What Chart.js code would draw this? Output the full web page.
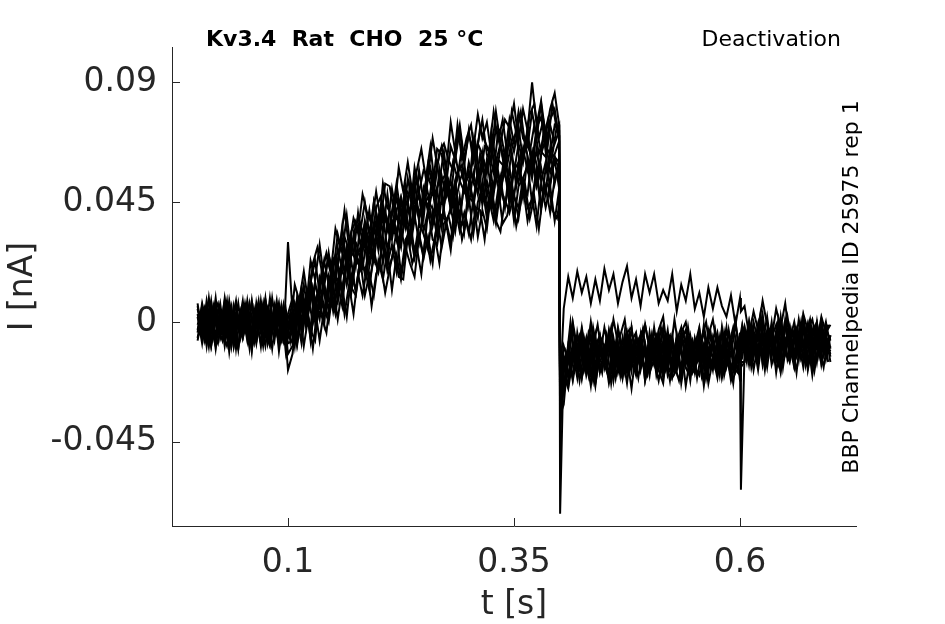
<!DOCTYPE html>
<html>
<head>
<meta charset="utf-8">
<title>Kv3.4 Rat CHO 25 °C - Deactivation</title>
<script src="https://cdn.jsdelivr.net/npm/chart.js@4.4.1/dist/chart.umd.min.js"></script>
<style>
  html, body { margin: 0; padding: 0; background: #fff; }
  #wrap { width: 945px; height: 624px; position: relative; }
</style>
</head>
<body>
<div id="wrap"><canvas id="traceChart"></canvas></div>
<script>
// sample times of sweeps 1-10, ms
const timeMs = [
  0, 5, 10, 15, 20, 25, 30, 35, 40, 45, 50, 55, 60, 65, 70, 75, 80, 85, 90, 95, 100,
  105, 110, 115, 120, 125, 130, 135, 140, 145, 150, 155, 160, 165, 170, 175, 180, 185, 190, 195, 200,
  205, 210, 215, 220, 225, 230, 235, 240, 245, 250, 255, 260, 265, 270, 275, 280, 285, 290, 295, 300,
  305, 310, 315, 320, 325, 330, 335, 340, 345, 350, 355, 360, 365, 370, 375, 380, 385, 390, 395, 400,
  401,
  405, 410, 415, 420, 425, 430, 435, 440, 445, 450, 455, 460, 465, 470, 475, 480, 485, 490, 495, 500,
  505, 510, 515, 520, 525, 530, 535, 540, 545, 550, 555, 560, 565, 570, 575, 580, 585, 590, 595, 600,
  601,
  605, 610, 615, 620, 625, 630, 635, 640, 645, 650, 655, 660, 665, 670, 675, 680, 685, 690, 695, 700
];
// sample times of sweeps 11-14, ms
const timeMsB = [
  2.5, 7.5, 12.5, 17.5, 22.5, 27.5, 32.5, 37.5, 42.5, 47.5, 52.5, 57.5, 62.5, 67.5, 72.5, 77.5, 82.5, 87.5, 92.5, 97.5,
  102.5, 107.5, 112.5, 117.5, 122.5, 127.5, 132.5, 137.5, 142.5, 147.5, 152.5, 157.5, 162.5, 167.5, 172.5, 177.5, 182.5, 187.5, 192.5, 197.5,
  202.5, 207.5, 212.5, 217.5, 222.5, 227.5, 232.5, 237.5, 242.5, 247.5, 252.5, 257.5, 262.5, 267.5, 272.5, 277.5, 282.5, 287.5, 292.5, 297.5,
  302.5, 307.5, 312.5, 317.5, 322.5, 327.5, 332.5, 337.5, 342.5, 347.5, 352.5, 357.5, 362.5, 367.5, 372.5, 377.5, 382.5, 387.5, 392.5, 397.5,
  400, 401,
  402.5, 407.5, 412.5, 417.5, 422.5, 427.5, 432.5, 437.5, 442.5, 447.5, 452.5, 457.5, 462.5, 467.5, 472.5, 477.5, 482.5, 487.5, 492.5, 497.5,
  502.5, 507.5, 512.5, 517.5, 522.5, 527.5, 532.5, 537.5, 542.5, 547.5, 552.5, 557.5, 562.5, 567.5, 572.5, 577.5, 582.5, 587.5, 592.5, 597.5,
  602.5, 607.5, 612.5, 617.5, 622.5, 627.5, 632.5, 637.5, 642.5, 647.5, 652.5, 657.5, 662.5, 667.5, 672.5, 677.5, 682.5, 687.5, 692.5, 697.5
];

const trace1 = [
  5, -4, 2, -8, 6, -2, 8, -6, 1, -9, 4, -3, 7, -7, 2, -5, 9, -4, 0, -6, 3,
  9, 2, 13, 5, 23, 16, 29, 16, 25, 19, 33, 26, 40, 25, 37, 34, 45, 33, 45, 34,
  52, 43, 40, 52, 40, 51, 40, 58, 49, 57, 55, 69, 59, 66, 57, 75, 64, 74, 61, 70,
  65, 78, 69, 75, 63, 79, 67, 76, 73, 82, 68, 80, 72, 90, 74, 83, 70, 80, 86, 74,
  -72,
  -13, -21, -11, -21, -6, -15, -9, -20, -6, -16, -4, -17, -11, -21, -6, -15, -5, -18, -10, -20,
  -7, -13, -2, -18, -8, -16, -5, -12, -19, -6, -13, -3, -16, -8, -19, -2, -14, -7, -17, -4,
  -9,
  -2, -13, -6, -15, -4, -11, 0, -14, -7, -12, -3, -16, -5, -10, -1, -13, -9, -4, -14, -5
];
const trace2 = [
  -3, 6, -7, 3, -10, 4, -2, 7, -9, 2, -5, 8, -4, 1, -8, 5, -3, 6, -11, 2, -6,
  -4, 9, -4, 8, 15, 2, 17, 13, 26, 14, 23, 31, 21, 31, 21, 37, 31, 42, 28, 40,
  34, 48, 34, 42, 47, 36, 52, 42, 49, 39, 55, 49, 59, 47, 55, 46, 63, 53, 49, 60,
  53, 67, 63, 56, 72, 60, 67, 56, 71, 64, 73, 61, 69, 60, 73, 77, 66, 63, 74, 72,
  -35,
  -31, -12, -21, -4, -14, -6, -20, -9, -5, -16, -8, -18, -3, -13, -17, -2, -15, -10, -19, -6,
  -14, -5, -18, -7, -20, -9, -4, -16, -8, -17, -3, -15, -10, -18, -6, -13, -2, -19, -7, -14,
  -63,
  -12, 0, -10, -1, -15, -5, -2, -13, 2, -11, -4, -14, -6, -1, -16, -3, -9, 1, -12, -5
];
const trace3 = [
  2, -8, 5, -4, 9, -6, 1, -10, 6, -3, 3, -7, 8, -5, 0, -9, 4, -2, 7, -8, 30,
  4, -7, 9, -1, -2, 15, 6, 14, 4, 20, 11, 21, 28, 13, 26, 21, 34, 22, 35, 30,
  40, 27, 38, 31, 46, 37, 32, 47, 38, 50, 41, 50, 37, 55, 47, 53, 44, 53, 58, 44,
  56, 48, 63, 47, 56, 61, 52, 64, 48, 59, 52, 65, 57, 64, 52, 63, 69, 56, 62, 57,
  -30,
  -16, -24, -9, -18, -7, -20, -13, -24, -10, -16, -21, -8, -19, -12, -23, -9, -17, -6, -22, -14,
  -10, -18, -23, -8, -20, -11, -21, -7, -17, -19, -9, -24, -12, -16, -8, -21, -13, -20, -7, -22,
  -14,
  -3, -14, -8, -18, -5, -13, -4, -19, -7, -11, -2, -16, -6, -12, -17, -5, -15, -1, -13, -9
];
const trace4 = [
  -6, 3, -2, 8, -7, 4, -9, 2, -4, 7, -6, 1, -8, 5, -3, 9, -7, 2, -5, 6, -12,
  -9, 3, -2, 9, -7, 8, 1, 14, 8, 5, 22, 12, 23, 11, 23, 28, 18, 29, 23, 37,
  28, 22, 38, 34, 28, 43, 32, 40, 30, 44, 47, 36, 44, 36, 53, 42, 50, 38, 53, 47,
  45, 57, 44, 53, 43, 58, 50, 57, 44, 57, 60, 51, 48, 63, 51, 58, 48, 65, 52, 60,
  -25,
  5, 17, 9, 19, 11, 17, 7, 16, 8, 20, 12, 18, 7, 15, 21, 9, 16, 6, 18, 11,
  18, 7, 12, 8, 18, 4, 14, 8, 18, 5, 11, 2, 13, 5, 13, 6, 2, 10, -1, 9,
  4,
  6, -5, 4, -3, 8, -1, -6, 5, -2, 7, -7, 0, -10, 3, -3, 1, -8, 2, -4, -1
];
const trace5 = [
  7, -5, 0, -9, 4, -3, 6, -11, 3, -2, 8, -6, 2, -8, 5, -4, 1, -7, 6, -3, -2,
  2, -8, 7, -2, 12, 0, 8, -1, 17, 9, 7, 23, 14, 23, 11, 24, 30, 15, 24, 19,
  32, 22, 29, 19, 35, 27, 39, 26, 37, 33, 27, 42, 32, 47, 37, 43, 34, 47, 34, 52,
  46, 39, 53, 43, 51, 39, 54, 43, 58, 47, 43, 54, 59, 45, 55, 43, 58, 52, 61, 50,
  -20,
  -9, -15, -1, -16, -7, -14, 0, -12, -5, -17, -8, -15, -2, -11, -4, -18, -6, -13, -1, -10,
  -16, -4, -12, -3, -17, -7, -2, -15, -5, -14, -6, -17, -3, -10, -4, -16, -7, -13, 0, -15,
  -8,
  -10, 0, -13, -3, -8, 2, -11, -5, -14, -2, -4, -12, 1, -9, -1, -15, -3, -7, 0, -10
];
const trace6 = [
  -1, 4, -9, 6, -5, 2, -7, 8, -3, -10, 5, -1, -6, 3, -9, 7, -4, 1, -8, 4, -18,
  -12, 2, -8, 6, -4, 5, -7, 5, 0, 13, 1, 13, 2, 18, 12, 23, 10, 18, 10, 23,
  16, 27, 12, 25, 16, 28, 22, 17, 32, 24, 32, 22, 39, 28, 37, 27, 43, 34, 41, 33,
  46, 32, 42, 35, 50, 38, 34, 46, 41, 48, 39, 51, 38, 47, 36, 52, 43, 51, 38, 50,
  -28,
  -27, -9, -15, -9, -21, -7, -16, -5, -19, -12, -8, -22, -10, -17, -6, -14, -20, -9, -18, -4,
  -15, -7, -21, -10, -17, -5, -19, -11, -22, -8, -13, -8, -19, -6, -15, -3, -17, -11, -18, -5,
  -12,
  -5, -16, -3, -12, -7, -17, -4, -14, -2, -11, -15, -6, -13, -1, -18, -8, -3, -16, -7, -12
];
const trace7 = [
  3, -6, 8, -2, -9, 5, -4, 6, -7, 2, -1, 7, -10, 4, -3, 8, -5, 1, -8, 6, -2,
  8, 1, 12, 1, 15, 23, 11, 23, 14, 24, 21, 36, 21, 34, 38, 29, 37, 27, 45, 37,
  44, 35, 50, 40, 37, 50, 47, 39, 57, 45, 59, 51, 65, 63, 52, 66, 61, 72, 59, 72,
  60, 67, 76, 63, 60, 73, 72, 62, 76, 67, 79, 69, 66, 79, 69, 82, 66, 76, 80, 68,
  -40,
  -14, -20, -8, -14, -2, -13, -5, -18, -9, -15, -3, -12, -16, -6, -19, -7, -4, -15, -8, -17,
  -2, -14, -9, -16, -5, -18, -7, -3, -13, -11, -15, -1, -12, -6, -17, -4, -14, -9, -18, -5,
  -10,
  -3, -13, -6, -15, 0, -10, -2, -12, -8, -1, -14, -4, -11, 1, -9, -16, -2, -10, -5, -13
];
const trace8 = [
  -4, 7, -1, -8, 3, -5, 9, -3, 4, -10, 6, -2, 1, -7, 8, -4, -9, 3, -1, 5, -8,
  -7, 8, -3, 6, -6, 8, 13, 6, 2, 18, 16, 11, 27, 13, 25, 20, 33, 21, 29, 35,
  22, 38, 31, 41, 30, 39, 29, 42, 48, 34, 42, 38, 50, 36, 50, 44, 53, 39, 52, 57,
  43, 55, 46, 61, 49, 55, 47, 61, 53, 47, 60, 47, 62, 54, 65, 53, 60, 51, 63, 68,
  -33,
  -25, -11, -22, -12, -7, -19, -10, -23, -13, -9, -20, -6, -16, -21, -11, -8, -18, -5, -22, -13,
  -9, -17, -7, -20, -15, -6, -23, -12, -10, -19, -8, -22, -11, -13, -21, -9, -16, -7, -18, -20,
  -15,
  -15, -4, -11, -1, -16, -6, -13, -3, -18, -8, -2, -14, -7, -17, -5, -12, 0, -15, -8, -11
];
const trace9 = [
  6, -3, -8, 4, -1, 7, -6, 3, -9, 1, 5, -4, -7, 6, -2, 8, -5, -1, 4, -7, 2,
  3, -9, 2, 7, -3, -7, 10, 4, 15, 4, 14, 6, 23, 13, 10, 22, 20, 12, 27, 19,
  30, 19, 24, 34, 18, 31, 34, 24, 33, 25, 42, 31, 29, 40, 38, 30, 46, 38, 36, 47,
  33, 45, 51, 39, 46, 37, 50, 44, 52, 38, 51, 54, 43, 46, 58, 43, 51, 41, 54, 59,
  -22,
  -13, -15, 0, -10, -3, -15, -1, -9, -13, -2, -11, 1, -8, -14, -4, -2, -16, -5, -1, -10,
  -13, -3, 2, -12, -6, -15, -4, 0, -11, -9, -2, -14, -5, 1, -10, -13, -3, -8, 0, -12,
  -6,
  -2, -12, 0, -7, 3, -11, -6, -1, -13, 1, -8, -3, -14, 2, -9, -4, 0, -11, -2, -7
];
const trace10 = [
  -7, 2, 5, -9, 1, -4, 6, -8, 3, -2, -6, 4, -11, 7, -3, 2, -8, 5, -5, 1, -4,
  -8, 4, 9, 0, 16, 7, 5, 18, 17, 12, 28, 19, 15, 31, 30, 24, 38, 28, 37, 27,
  42, 38, 33, 48, 34, 46, 40, 53, 39, 48, 43, 55, 41, 53, 56, 43, 53, 59, 52, 49,
  68, 53, 62, 57, 68, 53, 66, 61, 68, 56, 67, 60, 73, 56, 72, 64, 62, 74, 67, 72,
  -38,
  -20, -25, -14, -9, -21, -13, -24, -10, -18, -11, -23, -15, -8, -20, -13, -25, -11, -17, -10, -19,
  -14, -22, -12, -7, -21, -18, -9, -24, -13, -17, -20, -10, -23, -14, -8, -19, -11, -22, -15, -12,
  -17,
  -15, -5, -18, -8, -13, -3, -16, -10, -19, -6, -9, -17, -4, -14, -7, -20, -8, -12, -5, -15
];
const trace11 = [
  4, -7, 1, 6, -5, -1, 8, -9, 3, -4, 7, -2, -8, 5, 0, -6, 9, -3, -7, 2,
  -3, 14, 8, 19, 7, 22, 28, 19, 26, 19, 35, 28, 42, 28, 39, 34, 48, 41, 37, 49,
  38, 52, 51, 41, 58, 49, 60, 49, 57, 65, 54, 66, 51, 64, 67, 61, 57, 74, 61, 69,
  74, 60, 73, 68, 64, 79, 68, 76, 63, 79, 71, 79, 66, 78, 82, 69, 76, 67, 82, 72,
  74, -45,
  -30, -22, -3, -13, -18, -6, -15, -2, -12, -19, -5, -14, -9, -20, -4, -16, -7, -13, -3, -17,
  -12, -6, -19, -8, -5, -18, -9, -15, -2, -14, -7, -20, -10, -4, -16, -8, -17, -3, -13, -18,
  -2, -11, -15, -5, -1, -14, -4, -12, 1, -9, -13, -3, -10, 0, -16, -6, -2, -13, -5, -11
];
const trace12 = [
  -5, 3, -9, 6, -2, -7, 4, -1, 8, -6, 2, -10, 5, -3, 7, -8, 1, -4, 6, -11,
  3, -7, 6, -9, 2, -10, 5, 2, -4, 11, 3, 16, 3, 14, 3, 18, 10, 21, 6, 18,
  22, 11, 20, 28, 17, 16, 32, 22, 28, 18, 34, 23, 32, 22, 37, 40, 32, 44, 31, 38,
  31, 43, 42, 31, 46, 38, 50, 37, 40, 49, 36, 45, 51, 39, 47, 35, 49, 52, 42, 39,
  44, -26,
  -28, -11, -16, -9, -22, -11, -20, -5, -17, -13, -8, -23, -10, -15, -6, -19, -12, -21, -9, -17,
  -5, -20, -13, -18, -7, -16, -22, -11, -8, -19, -15, -9, -21, -10, -17, -6, -20, -12, -23, -8,
  -13, -4, -17, -8, -5, -18, -6, -11, -16, -2, -14, -7, -19, -4, -12, -3, -15, -9, -17, -6
];
const trace13 = [
  2, -6, 9, -4, -8, 3, -1, 6, -10, 4, -3, 7, -5, 1, -9, 5, -2, 8, -7, 0,
  3, -9, 8, 1, 9, 0, 9, 18, 5, 17, 8, 20, 26, 18, 33, 22, 20, 33, 29, 38,
  27, 42, 32, 38, 29, 45, 44, 33, 44, 40, 52, 44, 41, 57, 44, 53, 43, 56, 59, 46,
  56, 50, 63, 53, 62, 48, 61, 59, 52, 64, 51, 63, 67, 57, 63, 55, 71, 57, 63, 61,
  60, -31,
  -17, -16, 0, -14, -6, -17, -4, -9, -1, -13, -10, -2, -16, -5, 1, -12, -15, -7, -3, -14,
  -5, -16, -2, -10, -13, 1, -11, -4, -15, -7, -14, -6, 0, -12, -3, -17, -5, -9, -2, -11,
  -1, -12, -3, -8, 3, -11, -4, -14, 0, -7, 2, -9, -13, -2, -6, 1, -10, -3, -12, -1
];
const trace14 = [
  -2, 5, -8, 3, 7, -4, -9, 1, 6, -5, 3, -7, -1, 8, -6, 2, -10, 4, -3, 5,
  -7, 7, 1, 14, 3, 13, 4, 20, 25, 18, 25, 16, 32, 27, 25, 41, 29, 37, 29, 43,
  47, 38, 36, 47, 45, 37, 54, 45, 54, 42, 53, 58, 48, 53, 64, 49, 60, 54, 66, 53,
  57, 67, 53, 66, 64, 56, 72, 62, 59, 68, 71, 56, 69, 64, 74, 63, 69, 76, 63, 74,
  70, -36,
  -16, -18, -20, -9, -5, -18, -12, -22, -10, -6, -17, -8, -21, -11, -19, -4, -14, -7, -16, -20,
  -9, -5, -18, -12, -22, -10, -6, -15, -19, -8, -21, -11, -7, -17, -10, -20, -4, -14, -18, -9,
  -6, -15, -1, -13, -8, -16, -4, -11, 0, -17, -5, -12, -3, -14, -10, -2, -18, -7, -4, -15
];

const sweepsA = [trace1, trace2, trace3, trace4, trace5, trace6, trace7, trace8, trace9, trace10];
const sweepsB = [trace11, trace12, trace13, trace14];

// tick labels
const xTicks = [0.1, 0.35, 0.6];
const yTicks = [-0.045, 0, 0.045, 0.09];

const titleText = 'Kv3.4  Rat  CHO  25 °C';
const protocolText = 'Deactivation';
const sourceText = 'BBP Channelpedia ID 25975 rep 1';

const axisColor = '#262626';
const fontFamily = '"DejaVu Sans", Verdana, sans-serif';

// ms -> s and pA -> nA
function sweepDataset(sweep, times) {
  return {
    data: sweep.map((pA, i) => ({ x: times[i] / 1000, y: pA / 1000 })),
    borderColor: '#000',
    borderWidth: 2,
    pointRadius: 0,
    tension: 0,
    fill: false,
  };
}
const datasets = sweepsA.map((s) => sweepDataset(s, timeMs))
  .concat(sweepsB.map((s) => sweepDataset(s, timeMsB)));

// inward tick marks, matlab style
const innerTicks = {
  id: 'innerTicks',
  afterDatasetsDraw(chart) {
    const { ctx, chartArea, scales } = chart;
    ctx.save();
    ctx.strokeStyle = axisColor;
    ctx.lineWidth = 1;
    ctx.beginPath();
    scales.x.ticks.forEach((t) => {
      const px = Math.round(scales.x.getPixelForValue(t.value)) + 0.5;
      ctx.moveTo(px, chartArea.bottom);
      ctx.lineTo(px, chartArea.bottom - 8);
    });
    scales.y.ticks.forEach((t) => {
      const py = Math.round(scales.y.getPixelForValue(t.value)) + 0.5;
      ctx.moveTo(chartArea.left, py);
      ctx.lineTo(chartArea.left + 8, py);
    });
    ctx.stroke();
    ctx.restore();
  },
};

// the three free texts round the axes
const headerTexts = {
  id: 'headerTexts',
  afterDraw(chart) {
    const { ctx } = chart;
    ctx.save();
    ctx.fillStyle = '#000';
    ctx.textBaseline = 'alphabetic';

    ctx.font = 'bold 22px ' + fontFamily;
    ctx.textAlign = 'left';
    ctx.fillText(titleText, 206, 46);

    ctx.font = '22px ' + fontFamily;
    ctx.textAlign = 'right';
    ctx.fillText(protocolText, 841, 46);

    ctx.font = '22px ' + fontFamily;
    ctx.translate(858, 287);
    ctx.rotate(-Math.PI / 2);
    ctx.textAlign = 'center';
    ctx.fillText(sourceText, 0, 0);
    ctx.restore();
  },
};

const chartCanvas = document.getElementById('traceChart');
new Chart(chartCanvas.getContext('2d'), {
  type: 'line',
  data: { datasets: datasets },
  options: {
    responsive: true,
    maintainAspectRatio: false,
    animation: false,
    normalized: true,
    layout: { padding: { top: 47, right: 89, left: 0, bottom: 0 } },
    plugins: {
      legend: { display: false },
      tooltip: { enabled: false },
    },
    scales: {
      x: {
        type: 'linear',
        min: -0.0283,
        max: 0.7283,
        afterFit: (scale) => { scale.height = 98; },
        afterBuildTicks: (scale) => { scale.ticks = xTicks.map((v) => ({ value: v })); },
        grid: { drawOnChartArea: false, drawTicks: false },
        border: { display: true, color: axisColor, width: 1 },
        ticks: {
          padding: 18,
          color: axisColor,
          font: { family: fontFamily, size: 33 },
          callback: (v) => String(v),
        },
        title: {
          display: true,
          text: 't [s]',
          color: axisColor,
          font: { family: fontFamily, size: 33, lineHeight: 1.1 },
          padding: { top: 0, bottom: 0 },
        },
      },
      y: {
        type: 'linear',
        min: -0.0766,
        max: 0.1033,
        afterFit: (scale) => { scale.width = 172; },
        afterBuildTicks: (scale) => { scale.ticks = yTicks.map((v) => ({ value: v })); },
        grid: { drawOnChartArea: false, drawTicks: false },
        border: { display: true, color: axisColor, width: 1 },
        ticks: {
          padding: 15,
          color: axisColor,
          font: { family: fontFamily, size: 33 },
          callback: (v) => String(v),
        },
        title: {
          display: true,
          text: 'I [nA]',
          color: axisColor,
          font: { family: fontFamily, size: 33 },
          padding: { top: 4, bottom: 0 },
        },
      },
    },
  },
  plugins: [innerTicks, headerTexts],
});
</script>
</body>
</html>
